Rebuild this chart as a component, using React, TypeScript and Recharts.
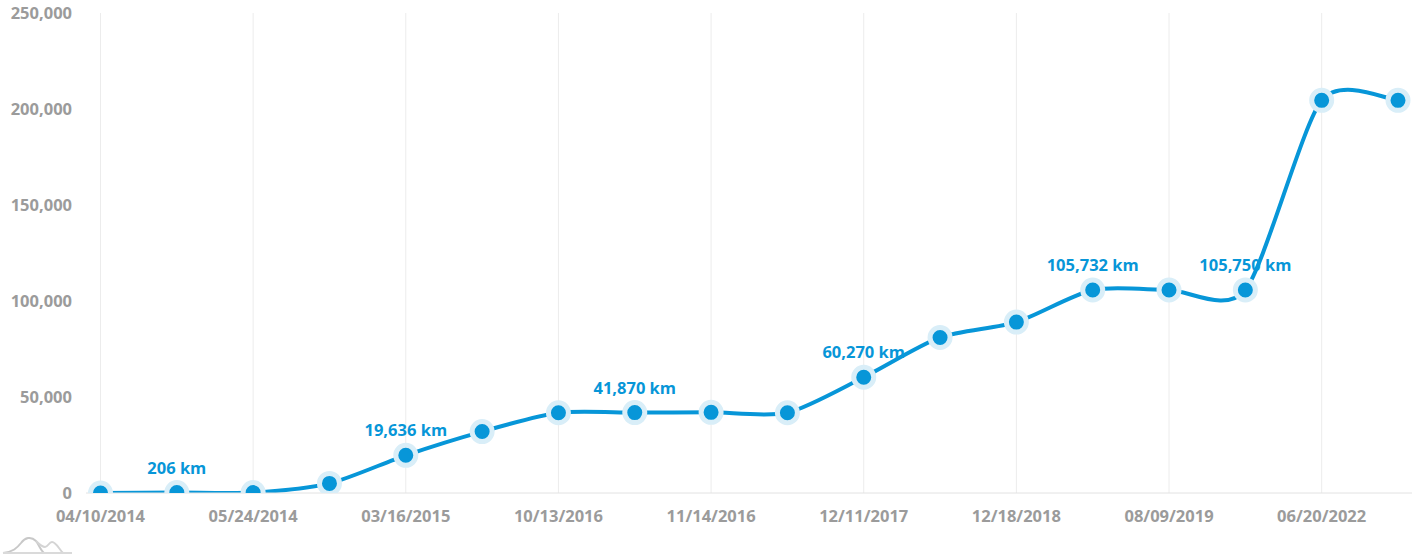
import { CartesianGrid, LabelList, Line, LineChart, XAxis, YAxis } from 'recharts';

// odometer readings, one per service entry
const distances = [0, 206, 210, 5000, 19636, 32000, 41800, 41870, 42000, 41800, 60270, 81000, 89000, 105732, 105740, 105750, 204500, 204500];
// only every second entry has a date on the axis
const dateTicks = [0, 2, 4, 6, 8, 10, 12, 14, 16];
const dateLabels = ['04/10/2014', '05/24/2014', '03/16/2015', '10/13/2016', '11/14/2016', '12/11/2017', '12/18/2018', '08/09/2019', '06/20/2022'];
const labelledEntries = [1, 4, 7, 10, 13, 15];
const yTicks = [0, 50000, 100000, 150000, 200000, 250000];

const BLUE = '#0796d8';
const GREY = '#9b9b9b';
const FONT = '"Open Sans", sans-serif';

const data = distances.map((km, index) => ({
  index,
  km,
  label: labelledEntries.includes(index) ? `${km.toLocaleString('en-US')} km` : null,
}));

// cardinal spline, recharts has no preset with this tension
const K = 0.125;
function smoothCurve(ctx: any) {
  let pts: number[][] = [];
  return {
    areaStart() {},
    areaEnd() {},
    lineStart() {
      pts = [];
    },
    point(x: number, y: number) {
      pts.push([+x, +y]);
    },
    lineEnd() {
      pts.forEach((p, i) => {
        if (i === 0) {
          ctx.moveTo(p[0], p[1]);
          return;
        }
        const a = pts[Math.max(i - 2, 0)];
        const b = pts[i - 1];
        const c = pts[Math.min(i + 1, pts.length - 1)];
        ctx.bezierCurveTo(b[0] + K * (p[0] - a[0]), b[1] + K * (p[1] - a[1]), p[0] - K * (c[0] - b[0]), p[1] - K * (c[1] - b[1]), p[0], p[1]);
      });
    },
  };
}

function Watermark() {
  return (
    <svg width={74} height={24} style={{ position: 'absolute', left: 0, top: 534 }}>
      <path d="M3 19 C13 18 17 14 21 9 C25 3.5 31 2 36 7 C39 11 41 17 44 19" fill="none" stroke="#c8c8c8" strokeWidth={2} />
      <path d="M36 7 C40 11 42 13 45 13 C48 13 49 8 52 8 C56 8 59 15 63 19" fill="none" stroke="#d4d4d4" strokeWidth={2} />
      <path d="M3 19 L72 19" fill="none" stroke="#dadada" strokeWidth={2} />
    </svg>
  );
}

export default function App() {
  return (
    <div style={{ position: 'absolute', left: 0, top: 0, width: 1418, height: 558, background: '#fff' }}>
      <LineChart width={1418} height={558} data={data} margin={{ top: 13, right: 6, bottom: 0, left: 0 }}>
        <CartesianGrid vertical horizontal={false} stroke="#ececec" verticalValues={dateTicks} />
        <XAxis
          dataKey="index"
          type="category"
          scale="point"
          padding={{ left: 14.5, right: 14 }}
          ticks={dateTicks}
          interval={0}
          height={65}
          tickFormatter={(i: number) => dateLabels[dateTicks.indexOf(i)]}
          tick={{ fill: GREY, fontSize: 16.5, fontWeight: 700, fontFamily: FONT }}
          tickLine={false}
          tickMargin={11}
          axisLine={{ stroke: '#e2e2e2' }}
        />
        <YAxis
          width={86}
          domain={[0, 250000]}
          ticks={yTicks}
          allowDataOverflow
          tickFormatter={(v: number) => v.toLocaleString('en-US')}
          tick={{ fill: GREY, fontSize: 16.5, fontWeight: 700, fontFamily: FONT }}
          tickLine={false}
          axisLine={false}
          tickMargin={8}
        />
        <Line
          dataKey="km"
          type={smoothCurve as any}
          stroke={BLUE}
          strokeWidth={4}
          isAnimationActive={false}
          dot={{ r: 10, fill: BLUE, stroke: '#d9eef8', strokeWidth: 5 }}
          activeDot={false}
        >
          <LabelList dataKey="label" position="top" offset={19} fill={BLUE} fontSize={16.5} fontWeight={700} fontFamily={FONT} />
        </Line>
      </LineChart>
      <Watermark />
    </div>
  );
}
